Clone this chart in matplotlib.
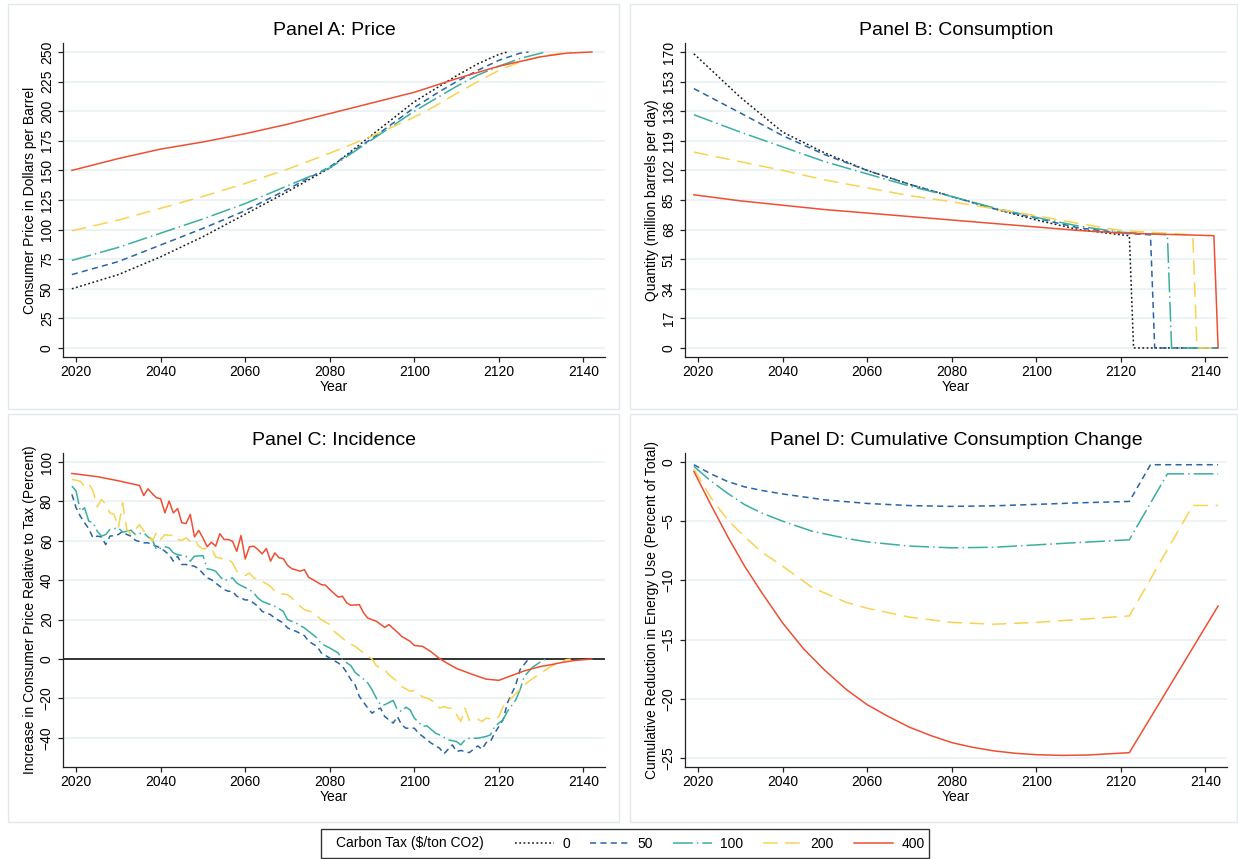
import matplotlib
matplotlib.use("Agg")
import matplotlib.pyplot as plt
from matplotlib.patches import Rectangle

plt.rcParams['font.family'] = ['Liberation Sans', 'DejaVu Sans']
plt.rcParams['font.size'] = 10

# carbon tax scenarios
taxes = ['0', '50', '100', '200', '400']
colors = ['#1a1a1a', '#2a64a8', '#3aafa0', '#f9d24f', '#ee4f33']
dashes = [(1.2, 1.6), (4, 2.8), (13, 2.6, 1, 2.6), (9.5, 5), None]

# Panel A: consumer price ($/barrel)
yrA_0 = [2019, 2030, 2040, 2050, 2060, 2070, 2080, 2090, 2095, 2100, 2105, 2110, 2115, 2120, 2122]
pA_0 = [50, 62, 77, 94, 113, 132, 152, 180, 194, 208, 219, 230, 240, 248, 250]
yrA_50 = [2019, 2030, 2040, 2050, 2060, 2070, 2080, 2090, 2100, 2105, 2110, 2115, 2120, 2125, 2127]
pA_50 = [62, 73, 87, 101, 116, 134, 153, 177, 203, 214.5, 225, 234.5, 243, 249, 250]
yrA_100 = [2019, 2030, 2040, 2050, 2060, 2070, 2080, 2090, 2100, 2105, 2110, 2115, 2120, 2125, 2131]
pA_100 = [74, 85, 97, 109, 122, 137, 152, 176, 200, 210.5, 221, 230.5, 238, 244.5, 250]
yrA_200 = [2019, 2030, 2040, 2050, 2060, 2070, 2080, 2090, 2100, 2105, 2110, 2115, 2120, 2125, 2130, 2137]
pA_200 = [99, 108, 118, 128, 139, 151, 164.5, 179, 195, 204.5, 215, 225, 234.5, 241.5, 246.5, 250]
yrA_400 = [2019, 2030, 2040, 2050, 2060, 2070, 2080, 2090, 2100, 2110, 2120, 2130, 2136, 2142]
pA_400 = [150, 160, 168, 174, 181, 189, 198, 207, 216, 227.5, 238, 246, 249, 250]

# Panel B: quantity (million barrels per day)
yrB_0 = [2019, 2030, 2040, 2050, 2060, 2070, 2080, 2090, 2100, 2110, 2120, 2122, 2123, 2143]
qB_0 = [169, 144, 124, 112, 102, 94, 87, 80, 73.5, 68, 65, 64.5, 0, 0]
yrB_50 = [2019, 2030, 2040, 2050, 2060, 2070, 2080, 2090, 2100, 2110, 2120, 2127, 2128, 2143]
qB_50 = [149, 135, 122, 111, 102, 94, 87, 80, 74.5, 69, 66, 65, 0, 0]
yrB_100 = [2019, 2030, 2040, 2050, 2060, 2070, 2080, 2090, 2100, 2110, 2120, 2131, 2132, 2143]
qB_100 = [134, 124, 115.5, 107, 100, 93, 87, 80.5, 75, 70, 66.5, 65, 0, 0]
yrB_200 = [2019, 2030, 2040, 2050, 2060, 2070, 2080, 2090, 2100, 2110, 2120, 2137, 2138, 2143]
qB_200 = [112.5, 107, 102, 96.5, 92, 87.5, 84, 80, 76, 71.5, 67.5, 65, 0, 0]
yrB_400 = [2019, 2030, 2040, 2050, 2060, 2070, 2080, 2090, 2100, 2110, 2120, 2142, 2143]
qB_400 = [88, 84.5, 82, 79.5, 77.5, 75.5, 73.5, 71.5, 69.5, 67.5, 66, 64.5, 0]

# Panel C: incidence (percent)
yrC_50 = [2019, 2020, 2021, 2022, 2023, 2024, 2025, 2026, 2027, 2028, 2029, 2030, 2031, 2032, 2033, 2034,
          2036, 2037, 2038, 2040, 2041, 2042, 2043, 2044, 2045, 2046, 2048, 2049, 2050, 2051, 2052, 2053,
          2055, 2056, 2057, 2058, 2059, 2060, 2061, 2063, 2064, 2066, 2067, 2069, 2070, 2072, 2074, 2075,
          2077, 2078, 2080, 2082, 2083, 2084, 2085, 2086, 2087, 2089, 2090, 2091, 2092, 2093, 2095, 2096,
          2097, 2098, 2100, 2101, 2103, 2104, 2106, 2107, 2109, 2110, 2111, 2113, 2115, 2116, 2117, 2118,
          2119, 2121, 2122, 2124, 2125, 2127]
iC_50 = [83.6, 76.8, 72.5, 69.2, 66.1, 61.5, 62.4, 62, 58.1, 62.4, 62.7, 63.2, 64.9, 63.2, 62.4, 60.3,
         59, 59, 58.1, 56.4, 54.7, 53, 49.7, 52.2, 48, 48, 47.1, 45.8, 43.4, 41.2, 40.3, 38.6,
         35.3, 34.4, 34.4, 31.9, 31, 30, 30, 26.8, 24.2, 22.5, 20.8, 18.3, 15.8, 14.1, 11.9, 9,
         6.4, 3.1, 0.5, -2, -3.7, -6.8, -10.5, -13.1, -19, -24.9, -27.5, -25.8, -24.9, -29.2, -32.5, -29.2,
         -33.4, -35.1, -35.1, -37.6, -41, -42.7, -45.3, -48.1, -43.6, -47, -46.4, -47.5, -44.1, -45.8, -42.4, -41.9,
         -37.6, -30.8, -22.4, -13.1, -5.4, 0]
yrC_100 = [2019, 2020, 2021, 2022, 2023, 2024, 2025, 2026, 2027, 2028, 2030, 2031, 2032, 2033, 2034, 2036,
           2037, 2038, 2039, 2041, 2042, 2043, 2044, 2046, 2047, 2048, 2050, 2051, 2052, 2053, 2054, 2055,
           2057, 2058, 2059, 2061, 2062, 2063, 2064, 2066, 2067, 2069, 2070, 2072, 2074, 2075, 2077, 2078,
           2080, 2082, 2083, 2085, 2086, 2088, 2089, 2090, 2091, 2092, 2093, 2095, 2096, 2097, 2098, 2099,
           2100, 2102, 2103, 2105, 2106, 2108, 2110, 2111, 2112, 2113, 2115, 2117, 2118, 2119, 2121, 2122,
           2124, 2125, 2126, 2128, 2130, 2131]
iC_100 = [87.8, 85.3, 75.1, 76.8, 70, 69.2, 64.9, 62.4, 63.2, 65.8, 66.6, 64.4, 64.9, 65.4, 63.2, 64.1,
          62, 60.7, 55.6, 57, 56.4, 53.9, 53, 52.2, 49.7, 52.2, 52.5, 45.8, 45.4, 44.6, 42, 39.8,
          41.2, 38.6, 37.3, 35.3, 33.6, 31, 29.3, 27.6, 26.8, 24.2, 20, 18.3, 15.8, 14.1, 10.7, 7.8,
          5.6, 3.1, -0.3, -3.4, -6.8, -10.2, -12.2, -15.6, -19.8, -23.2, -23.2, -21, -25.8, -26.6, -24.4, -25.8,
          -30, -34.2, -33.9, -37.6, -38.5, -41, -41.9, -43.6, -41, -40.2, -40.2, -39.3, -38.5, -34.2, -30.8, -26.6,
          -20.7, -15.6, -8.8, -4.1, -1.2, 0]
yrC_200 = [2019, 2021, 2022, 2023, 2024, 2025, 2026, 2027, 2028, 2029, 2030, 2031, 2032, 2033, 2035, 2036,
           2037, 2038, 2039, 2040, 2041, 2042, 2043, 2044, 2045, 2046, 2047, 2048, 2049, 2050, 2052, 2053,
           2054, 2055, 2056, 2057, 2058, 2059, 2060, 2061, 2062, 2064, 2066, 2067, 2068, 2070, 2071, 2073,
           2074, 2076, 2078, 2080, 2081, 2083, 2084, 2086, 2088, 2090, 2091, 2093, 2094, 2096, 2097, 2099,
           2100, 2102, 2103, 2105, 2106, 2107, 2108, 2109, 2111, 2112, 2113, 2115, 2116, 2117, 2119, 2120,
           2121, 2123, 2125, 2127, 2130, 2132, 2134, 2136, 2137]
iC_200 = [91.2, 90.3, 87.5, 89, 85.3, 77.3, 81, 78.5, 74.2, 73.4, 66.6, 79.3, 65.8, 63.2, 68.3, 64.9,
          64.1, 59.8, 64.1, 60.7, 63.2, 62.7, 63.2, 60.7, 60.3, 61.5, 59.8, 61, 57.3, 55.9, 56.4, 51.7,
          51.4, 50.5, 50.8, 48.8, 44.6, 43.4, 42.4, 43.7, 41.2, 39.5, 36.9, 34.4, 33.2, 32.7, 31, 26.8,
          25.1, 23.7, 20, 17.5, 14.1, 10.7, 8.5, 6.4, 3.1, 0, -3.4, -5.4, -8, -11.4, -13.9, -16.4,
          -15.9, -19.3, -19.8, -22, -24.9, -24.1, -24.9, -24.9, -31.7, -24.9, -31.2, -30.5, -31.7, -30, -30.8, -29.2,
          -24.1, -19.8, -15.3, -11.4, -7.1, -4.1, -2, -0.3, 0]
yrC_400 = [2019, 2025, 2030, 2035, 2036, 2037, 2038, 2039, 2040, 2041, 2042, 2043, 2044, 2045, 2046, 2047,
           2048, 2049, 2050, 2051, 2052, 2053, 2054, 2055, 2056, 2057, 2058, 2059, 2060, 2061, 2062, 2063,
           2064, 2065, 2066, 2067, 2068, 2069, 2070, 2071, 2073, 2074, 2075, 2076, 2078, 2079, 2080, 2082,
           2083, 2084, 2085, 2087, 2088, 2089, 2091, 2093, 2094, 2096, 2097, 2099, 2100, 2102, 2104, 2106,
           2108, 2110, 2114, 2117, 2120, 2122, 2124, 2126, 2130, 2132, 2135, 2138, 2142]
iC_400 = [94.2, 92.6, 90.5, 88.1, 83, 86.4, 84, 81.9, 81.4, 74.2, 80.2, 74.2, 76.4, 69.2, 68.8, 73.4,
          62, 65.3, 61.5, 57, 59.3, 57.3, 63.6, 60.7, 60.7, 59.8, 54.7, 62.7, 50.8, 57, 57.3, 55.6,
          53.4, 56.1, 49.7, 53.9, 51.4, 51, 47.6, 45.9, 44.6, 45.4, 41.5, 40.3, 37.8, 37.5, 35.3, 31.4,
          31.9, 28.5, 27.3, 27.6, 23.4, 20.8, 19.2, 16.1, 17.5, 13.6, 11.5, 9, 6.9, 6.4, 3.6, 0.2,
          -2.4, -4.8, -8, -10.2, -10.8, -9.2, -7.6, -6, -3.7, -3, -1.7, -0.7, 0]

# Panel D: cumulative reduction in energy use (percent of total)
yrD_50 = [2019, 2023, 2027, 2031, 2035, 2040, 2050, 2060, 2070, 2080, 2090, 2100, 2110, 2122, 2127, 2143]
dD_50 = [-0.23, -1.0, -1.65, -2.1, -2.4, -2.7, -3.2, -3.5, -3.68, -3.75, -3.7, -3.58, -3.45, -3.33, -0.23, -0.23]
yrD_100 = [2019, 2023, 2027, 2031, 2035, 2040, 2047, 2055, 2060, 2070, 2080, 2090, 2100, 2110, 2122, 2131, 2143]
dD_100 = [-0.37, -1.6, -2.65, -3.6, -4.3, -5.0, -5.85, -6.45, -6.75, -7.1, -7.25, -7.2, -7.0, -6.8, -6.57, -1.0, -1.0]
yrD_200 = [2019, 2023, 2027, 2031, 2035, 2040, 2047, 2055, 2060, 2070, 2080, 2090, 2100, 2110, 2122, 2137, 2143]
dD_200 = [-0.6, -3.0, -4.9, -6.3, -7.6, -8.8, -10.6, -11.85, -12.35, -13.1, -13.55, -13.7, -13.55, -13.3, -13.0, -3.67, -3.67]
yrD_400 = [2019, 2023, 2027, 2031, 2035, 2040, 2045, 2050, 2055, 2060, 2065, 2070, 2075, 2080, 2085, 2090,
           2095, 2100, 2106, 2112, 2122, 2143]
dD_400 = [-0.8, -3.6, -6.3, -8.8, -11.0, -13.6, -15.8, -17.6, -19.2, -20.5, -21.5, -22.4, -23.1, -23.7, -24.1,
          -24.4, -24.6, -24.72, -24.78, -24.75, -24.55, -12.16]

W, H = 1238, 859
fig = plt.figure(figsize=(W / 100, H / 100), dpi=100)
fig.patch.set_facecolor('white')


def px_axes(x0, y0, x1, y1):
    return fig.add_axes([x0 / W, 1 - y1 / H, (x1 - x0) / W, (y1 - y0) / H])


def box(x0, y0, x1, y1, ec='#e1e9ec', lw=1.0):
    fig.add_artist(Rectangle((x0 / W, 1 - y1 / H), (x1 - x0) / W, (y1 - y0) / H,
                             transform=fig.transFigure, fill=False, ec=ec, lw=lw))


def style(ax, ylim, yticks, ylabel, title):
    ax.set_xlim(2016.9, 2145.1)
    ax.set_ylim(*ylim)
    ax.set_xticks(range(2020, 2141, 20))
    ax.set_yticks(yticks)
    ax.grid(axis='y', color='#eaf2f3', lw=1.3)
    ax.set_axisbelow(True)
    for s in ['top', 'right']:
        ax.spines[s].set_visible(False)
    for s in ['left', 'bottom']:
        ax.spines[s].set_color('#222222')
        ax.spines[s].set_linewidth(0.9)
    ax.tick_params(axis='y', labelrotation=90, length=3.6, width=0.9, pad=3, color='#222222')
    ax.tick_params(axis='x', length=3.6, width=0.9, pad=2, color='#222222')
    for lab in ax.get_yticklabels():
        lab.set_va('center')
    ax.set_title(title, fontsize=14, pad=6)
    ax.set_xlabel('Year', labelpad=1)
    ax.set_ylabel(ylabel, labelpad=2)


def draw(ax, xs, ys, i):
    kw = dict(color=colors[i], lw=1.1, label=taxes[i])
    if dashes[i] is not None:
        kw['dashes'] = dashes[i]
    ax.plot(xs, ys, **kw)


# panel frames
box(8, 4, 619, 409)
box(630, 4, 1237, 409)
box(8, 414, 619, 822)
box(630, 414, 1237, 822)

axA = px_axes(63, 43, 605, 357)
for i, (xs, ys) in enumerate([(yrA_0, pA_0), (yrA_50, pA_50), (yrA_100, pA_100),
                              (yrA_200, pA_200), (yrA_400, pA_400)]):
    draw(axA, xs, ys, i)
style(axA, (-7.6, 257.6), range(0, 251, 25), 'Consumer Price in Dollars per Barrel', 'Panel A: Price')

axB = px_axes(685, 43, 1227, 357)
for i, (xs, ys) in enumerate([(yrB_0, qB_0), (yrB_50, qB_50), (yrB_100, qB_100),
                              (yrB_200, qB_200), (yrB_400, qB_400)]):
    draw(axB, xs, ys, i)
style(axB, (-5.2, 175.2), range(0, 171, 17), 'Quantity (million barrels per day)', 'Panel B: Consumption')

axC = px_axes(63, 453, 605, 767)
axC.axhline(0, color='black', lw=1.1, zorder=1.5)
for i, (xs, ys) in enumerate([(yrC_50, iC_50), (yrC_100, iC_100), (yrC_200, iC_200),
                              (yrC_400, iC_400)], start=1):
    draw(axC, xs, ys, i)
style(axC, (-54.8, 104.6), range(-40, 101, 20), 'Increase in Consumer Price Relative to Tax (Percent)',
      'Panel C: Incidence')

axD = px_axes(685, 453, 1227, 767)
for i, (xs, ys) in enumerate([(yrD_50, dD_50), (yrD_100, dD_100), (yrD_200, dD_200),
                              (yrD_400, dD_400)], start=1):
    draw(axD, xs, ys, i)
style(axD, (-25.76, 0.76), range(-25, 1, 5), 'Cumulative Reduction in Energy Use (Percent of Total)',
      'Panel D: Cumulative Consumption Change')

# legend
box(321, 829, 929, 858, ec='#333333', lw=1.0)
fig.text(336 / W, 1 - 843.5 / H, r'Carbon Tax (\$/ton CO2)', ha='left', va='center', fontsize=10)
fig.legend(axA.get_lines(), taxes, loc='center left', bbox_to_anchor=(508 / W, 1 - 843.5 / H),
           ncol=5, frameon=False, borderpad=0, handlelength=2.8, handletextpad=0.6,
           columnspacing=1.45, fontsize=10)

fig.savefig('out.png', dpi=100)
